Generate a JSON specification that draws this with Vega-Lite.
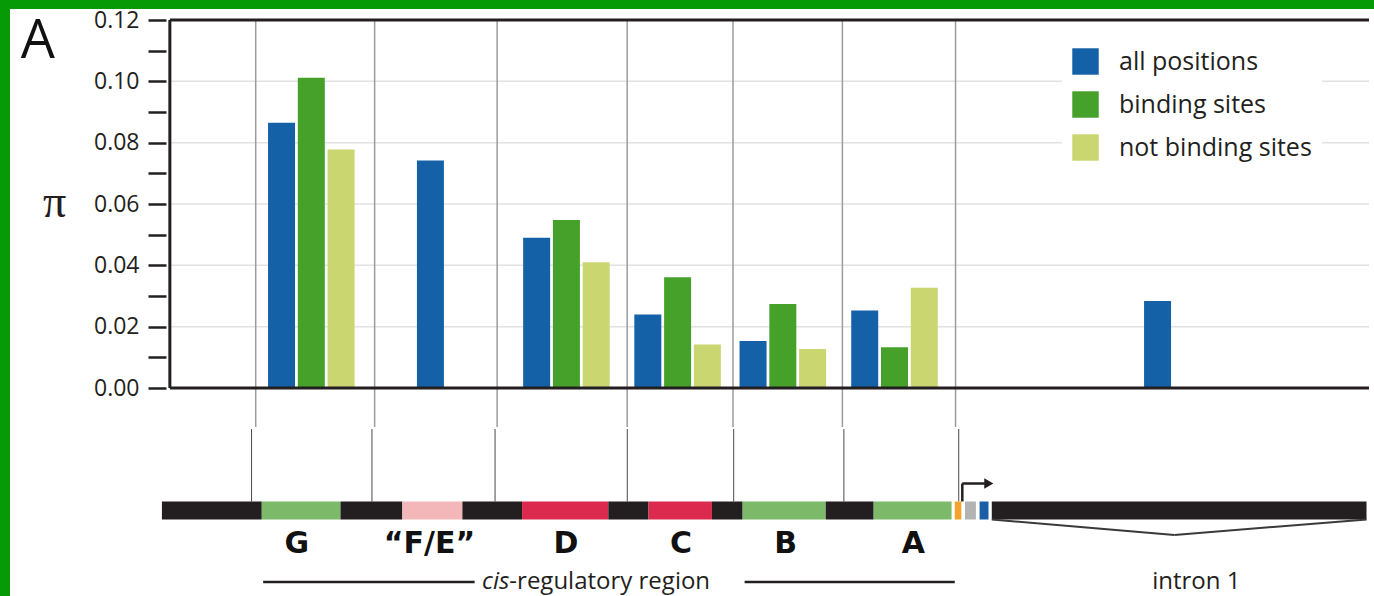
{
  "$schema": "https://vega.github.io/schema/vega-lite/v6.json",
  "width": 1364,
  "height": 587,
  "autosize": {"type": "none"},
  "padding": {"left": 10, "top": 9, "right": 0, "bottom": 0},
  "background": "#079a07",
  "config": {"view": {"fill": "white", "stroke": null}, "font": "Open Sans"},
  "datasets": {
    "pi": [
      {"region": "G", "series": "all positions", "pos": 112.5, "pi": 0.0865},
      {"region": "G", "series": "binding sites", "pos": 142.5, "pi": 0.1012},
      {"region": "G", "series": "not binding sites", "pos": 172.5, "pi": 0.0778},
      {"region": "F/E", "series": "all positions", "pos": 262.5, "pi": 0.0742},
      {"region": "D", "series": "all positions", "pos": 369.5, "pi": 0.049},
      {"region": "D", "series": "binding sites", "pos": 399.5, "pi": 0.0548},
      {"region": "D", "series": "not binding sites", "pos": 429.5, "pi": 0.041},
      {"region": "C", "series": "all positions", "pos": 481.5, "pi": 0.024},
      {"region": "C", "series": "binding sites", "pos": 511.5, "pi": 0.0361},
      {"region": "C", "series": "not binding sites", "pos": 541.5, "pi": 0.0142},
      {"region": "B", "series": "all positions", "pos": 587.5, "pi": 0.0153},
      {"region": "B", "series": "binding sites", "pos": 617.5, "pi": 0.0274},
      {"region": "B", "series": "not binding sites", "pos": 647.5, "pi": 0.0127},
      {"region": "A", "series": "all positions", "pos": 700, "pi": 0.0253},
      {"region": "A", "series": "binding sites", "pos": 730, "pi": 0.0133},
      {"region": "A", "series": "not binding sites", "pos": 760, "pi": 0.0327},
      {"region": "intron 1", "series": "all positions", "pos": 995, "pi": 0.0284}
    ],
    "grid": [{"level": 0.02}, {"level": 0.04}, {"level": 0.06}, {"level": 0.08}, {"level": 0.1}],
    "boundaries": [
      {"upper": 86.5, "lower": 82.3},
      {"upper": 206.3, "lower": 203.6},
      {"upper": 329.7, "lower": 327.6},
      {"upper": 460.7, "lower": 460.8},
      {"upper": 567.3, "lower": 568},
      {"upper": 677.5, "lower": 679},
      {"upper": 791.5, "lower": 794.7}
    ],
    "elements": [
      {"type": "spacer", "start": -8, "end": 92.6},
      {"type": "G", "start": 92.6, "end": 171.9},
      {"type": "spacer", "start": 171.9, "end": 234.2},
      {"type": "F/E", "start": 234.2, "end": 294.7},
      {"type": "spacer", "start": 294.7, "end": 354.8},
      {"type": "D", "start": 354.8, "end": 441.7},
      {"type": "spacer", "start": 441.7, "end": 482.2},
      {"type": "C", "start": 482.2, "end": 546.1},
      {"type": "spacer", "start": 546.1, "end": 577},
      {"type": "B", "start": 577, "end": 660.7},
      {"type": "spacer", "start": 660.7, "end": 709},
      {"type": "A", "start": 709, "end": 787.5},
      {"type": "core promoter", "start": 790.7, "end": 797.3},
      {"type": "5′ UTR", "start": 801, "end": 812},
      {"type": "exon 1", "start": 815.7, "end": 824.7},
      {"type": "intron 1", "start": 828, "end": 1205.5}
    ],
    "labels": [
      {"label": "G", "at": 128},
      {"label": "“F/E”", "at": 261.5},
      {"label": "D", "at": 399},
      {"label": "C", "at": 515},
      {"label": "B", "at": 620.5},
      {"label": "A", "at": 749}
    ]
  },
  "data": {"values": [{}]},
  "layer": [
    {
      "data": {"name": "grid"},
      "mark": {"type": "rule", "color": "#e2e2e2", "strokeWidth": 1.5},
      "encoding": {
        "y": {
          "field": "level", "type": "quantitative",
          "scale": {"domain": [-0.067826, 0.123587], "nice": false, "zero": false},
          "axis": {
            "orient": "left", "offset": -156,
            "values": [0, 0.01, 0.02, 0.03, 0.04, 0.05, 0.06, 0.07, 0.08, 0.09, 0.1, 0.11, 0.12],
            "labelExpr": "round(datum.value*100) % 2 == 0 ? format(datum.value, '.2f') : ''",
            "domain": false, "grid": false,
            "tickSize": 18, "tickWidth": 2.5, "tickColor": "#231f20",
            "labelFont": "Open Sans", "labelFontSize": 23, "labelColor": "#231f20", "labelPadding": 9,
            "labelFlush": false, "labelOverlap": false, "labelBound": false,
            "title": "π", "titleAngle": 0, "titleFont": "Liberation Serif", "titleFontSize": 46,
            "titleFontWeight": "normal", "titleColor": "#231f20", "titleX": -112, "titleY": 193,
            "titleBaseline": "middle", "titleAlign": "center"
          }
        },
        "x": {"datum": 0, "scale": {"domain": [-156, 1208], "nice": false, "zero": false}, "axis": null},
        "x2": {"datum": 1208}
      }
    },
    {
      "data": {"name": "boundaries"},
      "mark": {"type": "rule", "color": "#9c9c9c", "strokeWidth": 1.5},
      "encoding": {
        "x": {"field": "upper", "type": "quantitative"},
        "y": {"datum": 0.12},
        "y2": {"datum": -0.01272}
      }
    },
    {
      "data": {"name": "pi"},
      "mark": {"type": "bar", "width": 27},
      "encoding": {
        "x": {"field": "pos", "type": "quantitative"},
        "y": {"field": "pi", "type": "quantitative", "stack": null},
        "y2": {"datum": 0},
        "color": {
          "field": "series", "type": "nominal",
          "scale": {"domain": ["all positions", "binding sites", "not binding sites"], "range": ["#1461a8", "#46a12b", "#cad670"]},
          "legend": {
            "title": null, "orient": "none", "legendX": 1052, "legendY": 29,
            "symbolType": "square", "symbolSize": 700, "symbolStrokeWidth": 0, "symbolOpacity": 1,
            "labelFont": "Open Sans", "labelFontSize": 25, "labelColor": "#231f20", "labelLimit": 400,
            "rowPadding": 16, "labelOffset": 20, "fillColor": "white", "padding": 10
          }
        }
      }
    },
    {
      "mark": {"type": "rule", "color": "#231f20", "strokeWidth": 3},
      "encoding": {"x": {"datum": 0}, "x2": {"datum": 1208}, "y": {"datum": 0.12}}
    },
    {
      "mark": {"type": "rule", "color": "#231f20", "strokeWidth": 3},
      "encoding": {"x": {"datum": 0}, "x2": {"datum": 1208}, "y": {"datum": 0}}
    },
    {
      "mark": {"type": "rule", "color": "#231f20", "strokeWidth": 3},
      "encoding": {"x": {"datum": 0}, "y": {"datum": 0}, "y2": {"datum": 0.12}}
    },
    {
      "data": {"name": "boundaries"},
      "mark": {"type": "rule", "color": "#4a4a4a", "strokeWidth": 1},
      "encoding": {
        "x": {"field": "lower", "type": "quantitative"},
        "y": {"datum": -0.01337},
        "y2": {"datum": -0.03701}
      }
    },
    {
      "data": {"name": "elements"},
      "mark": {"type": "rect"},
      "encoding": {
        "x": {"field": "start", "type": "quantitative"},
        "x2": {"field": "end"},
        "y": {"datum": -0.03701},
        "y2": {"datum": -0.04288},
        "color": {
          "field": "type", "type": "nominal",
          "scale": {
            "domain": ["spacer", "G", "F/E", "D", "C", "B", "A", "core promoter", "5′ UTR", "exon 1", "intron 1"],
            "range": ["#231f20", "#7cba69", "#f3b7ba", "#dc2a4f", "#dc2a4f", "#7cba69", "#7cba69", "#f2a22d", "#b3b3b3", "#1b5ea8", "#231f20"]
          },
          "legend": null
        }
      }
    },
    {
      "mark": {"type": "rule", "color": "#231f20", "strokeWidth": 2.5},
      "encoding": {"x": {"datum": 798.3}, "y": {"datum": -0.03701}, "y2": {"datum": -0.03114}}
    },
    {
      "mark": {"type": "rule", "color": "#231f20", "strokeWidth": 2.5},
      "encoding": {"x": {"datum": 798.3}, "x2": {"datum": 821}, "y": {"datum": -0.03114}}
    },
    {
      "mark": {"type": "point", "shape": "triangle-right", "filled": true, "size": 110, "color": "#231f20", "opacity": 1},
      "encoding": {"x": {"datum": 825}, "y": {"datum": -0.03114}}
    },
    {
      "mark": {"type": "rule", "color": "#3a3a3a", "strokeWidth": 2},
      "encoding": {"x": {"datum": 828}, "x2": {"datum": 1012}, "y": {"datum": -0.04288}, "y2": {"datum": -0.04793}}
    },
    {
      "mark": {"type": "rule", "color": "#3a3a3a", "strokeWidth": 2},
      "encoding": {"x": {"datum": 1012}, "x2": {"datum": 1205.5}, "y": {"datum": -0.04793}, "y2": {"datum": -0.04288}}
    },
    {
      "data": {"name": "labels"},
      "mark": {"type": "text", "font": "DejaVu Sans", "fontWeight": "bold", "fontSize": 30, "align": "center", "baseline": "middle", "color": "#111111"},
      "encoding": {
        "x": {"field": "at", "type": "quantitative"},
        "y": {"datum": -0.05087},
        "text": {"field": "label"}
      }
    },
    {
      "mark": {"type": "rule", "color": "#231f20", "strokeWidth": 2.5},
      "encoding": {"x": {"datum": 94}, "x2": {"datum": 307}, "y": {"datum": -0.06326}}
    },
    {
      "mark": {"type": "rule", "color": "#231f20", "strokeWidth": 2.5},
      "encoding": {"x": {"datum": 579}, "x2": {"datum": 790.7}, "y": {"datum": -0.06326}}
    },
    {
      "mark": {"type": "text", "font": "Open Sans", "fontStyle": "italic", "fontSize": 24, "align": "right", "baseline": "alphabetic", "color": "#231f20"},
      "encoding": {"x": {"datum": 342}, "y": {"datum": -0.06555}, "text": {"value": "cis"}}
    },
    {
      "mark": {"type": "text", "font": "Open Sans", "fontSize": 24, "align": "left", "baseline": "alphabetic", "color": "#231f20"},
      "encoding": {"x": {"datum": 342}, "y": {"datum": -0.06555}, "text": {"value": "-regulatory region"}}
    },
    {
      "mark": {"type": "text", "font": "Open Sans", "fontSize": 24, "align": "center", "baseline": "alphabetic", "color": "#231f20"},
      "encoding": {"x": {"datum": 1034}, "y": {"datum": -0.06555}, "text": {"value": "intron 1"}}
    },
    {
      "mark": {"type": "text", "font": "Open Sans", "fontSize": 54, "align": "center", "baseline": "alphabetic", "color": "#111111"},
      "encoding": {"x": {"datum": -133}, "y": {"datum": 0.10762}, "text": {"value": "A"}}
    }
  ],
  "resolve": {"scale": {"color": "independent"}}
}
